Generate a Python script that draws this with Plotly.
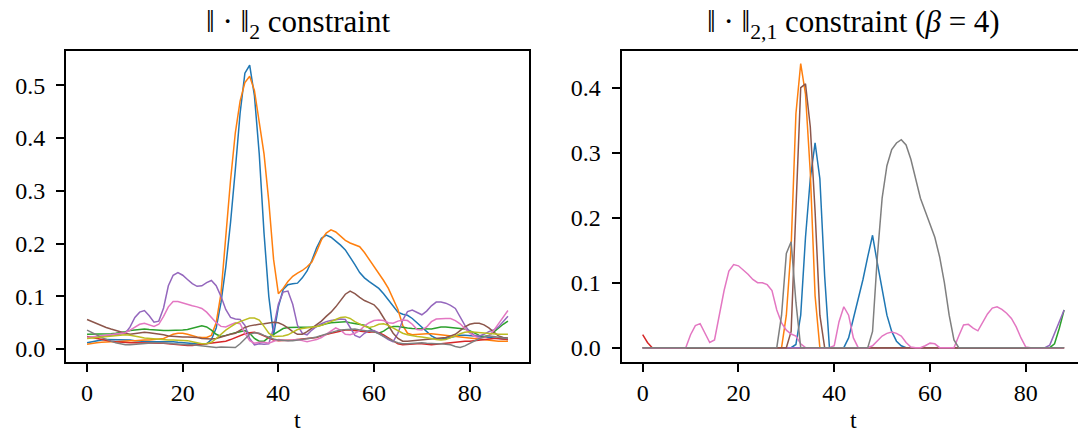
import plotly.graph_objects as go

t = list(range(89))

# Left panel: ||.||_2 constraint
l2_blue = [0.012,0.014,0.016,0.017,0.018,0.018,0.018,0.017,0.017,0.017,
 0.016,0.015,0.015,0.014,0.014,0.014,0.015,0.015,0.014,0.013,
 0.012,0.011,0.010,0.009,0.009,0.010,0.018,0.040,0.088,0.155,
 0.240,0.340,0.447,0.523,0.538,0.480,0.370,0.220,0.100,0.026,
 0.080,0.113,0.122,0.124,0.125,0.135,0.148,0.168,0.192,0.210,
 0.216,0.212,0.205,0.197,0.188,0.175,0.160,0.145,0.135,0.128,
 0.122,0.115,0.105,0.093,0.080,0.070,0.066,0.064,0.058,0.050,
 0.042,0.033,0.025,0.020,0.019,0.020,0.022,0.024,0.026,0.026,
 0.026,0.025,0.024,0.023,0.021,0.020,0.019,0.019,0.018]
l2_orange = [0.009,0.011,0.012,0.013,0.014,0.014,0.014,0.015,0.015,0.016,
 0.016,0.017,0.017,0.017,0.018,0.018,0.020,0.024,0.028,0.030,
 0.030,0.028,0.025,0.023,0.022,0.022,0.026,0.050,0.105,0.215,
 0.320,0.410,0.470,0.505,0.517,0.490,0.430,0.370,0.280,0.170,
 0.105,0.115,0.128,0.138,0.144,0.149,0.156,0.165,0.185,0.207,
 0.220,0.226,0.222,0.214,0.206,0.201,0.198,0.194,0.183,0.170,
 0.155,0.143,0.130,0.115,0.095,0.075,0.045,0.030,0.027,0.028,
 0.029,0.029,0.029,0.028,0.027,0.025,0.024,0.023,0.022,0.021,
 0.020,0.019,0.018,0.017,0.017,0.016,0.015,0.015,0.015]
l2_green = [0.028,0.028,0.028,0.029,0.029,0.029,0.030,0.031,0.033,0.035,
 0.036,0.038,0.038,0.037,0.036,0.035,0.035,0.035,0.035,0.036,
 0.036,0.037,0.039,0.042,0.044,0.042,0.036,0.028,0.024,0.026,
 0.029,0.031,0.033,0.035,0.030,0.020,0.015,0.015,0.022,0.028,
 0.034,0.039,0.041,0.041,0.041,0.041,0.041,0.042,0.043,0.046,
 0.048,0.050,0.051,0.052,0.052,0.050,0.048,0.047,0.045,0.040,
 0.033,0.030,0.034,0.040,0.043,0.043,0.041,0.040,0.039,0.039,
 0.039,0.038,0.038,0.040,0.042,0.042,0.041,0.040,0.039,0.038,
 0.035,0.030,0.026,0.024,0.026,0.032,0.040,0.047,0.053]
l2_red = [0.024,0.022,0.020,0.018,0.016,0.015,0.014,0.013,0.012,0.012,
 0.012,0.012,0.012,0.012,0.012,0.012,0.011,0.010,0.009,0.008,
 0.008,0.007,0.007,0.008,0.009,0.010,0.011,0.012,0.013,0.015,
 0.018,0.022,0.026,0.029,0.031,0.032,0.029,0.025,0.020,0.017,
 0.016,0.016,0.017,0.017,0.018,0.019,0.020,0.021,0.022,0.025,
 0.028,0.030,0.032,0.034,0.036,0.036,0.035,0.033,0.032,0.032,
 0.033,0.031,0.027,0.021,0.015,0.010,0.008,0.009,0.010,0.010,
 0.010,0.009,0.008,0.009,0.010,0.012,0.013,0.014,0.015,0.015,
 0.015,0.016,0.017,0.018,0.020,0.020,0.020,0.019,0.018]
l2_purple = [0.022,0.022,0.023,0.024,0.025,0.026,0.027,0.028,0.030,0.042,
 0.060,0.070,0.073,0.063,0.051,0.053,0.078,0.120,0.140,0.145,
 0.140,0.132,0.124,0.119,0.120,0.126,0.130,0.120,0.100,0.075,
 0.060,0.057,0.056,0.045,0.020,0.008,0.010,0.009,0.010,0.040,
 0.085,0.108,0.110,0.085,0.045,0.030,0.027,0.036,0.043,0.048,
 0.052,0.054,0.056,0.057,0.056,0.040,0.026,0.022,0.030,0.035,
 0.035,0.030,0.024,0.018,0.014,0.030,0.055,0.071,0.074,0.070,
 0.065,0.072,0.082,0.089,0.089,0.087,0.083,0.077,0.062,0.045,
 0.033,0.026,0.025,0.028,0.033,0.036,0.042,0.052,0.062]
l2_brown = [0.056,0.052,0.048,0.044,0.041,0.038,0.035,0.032,0.030,0.028,
 0.029,0.031,0.032,0.031,0.030,0.028,0.027,0.025,0.024,0.024,
 0.023,0.023,0.023,0.022,0.020,0.019,0.019,0.020,0.023,0.026,
 0.028,0.030,0.035,0.041,0.044,0.046,0.047,0.048,0.050,0.051,
 0.050,0.046,0.040,0.033,0.028,0.028,0.033,0.040,0.046,0.053,
 0.062,0.070,0.080,0.092,0.104,0.110,0.105,0.098,0.092,0.088,
 0.084,0.074,0.060,0.045,0.030,0.020,0.015,0.015,0.016,0.017,
 0.018,0.018,0.019,0.020,0.021,0.022,0.025,0.028,0.035,0.042,
 0.047,0.049,0.049,0.046,0.040,0.032,0.025,0.022,0.021]
l2_pink = [0.022,0.023,0.024,0.025,0.026,0.027,0.028,0.029,0.031,0.036,
 0.042,0.047,0.049,0.046,0.043,0.047,0.062,0.080,0.090,0.090,
 0.087,0.085,0.082,0.080,0.077,0.070,0.060,0.050,0.043,0.042,
 0.046,0.050,0.048,0.030,0.016,0.011,0.013,0.013,0.011,0.014,
 0.018,0.017,0.016,0.017,0.018,0.016,0.014,0.016,0.018,0.022,
 0.028,0.035,0.040,0.036,0.028,0.027,0.030,0.035,0.044,0.050,
 0.054,0.055,0.054,0.050,0.049,0.053,0.055,0.054,0.047,0.037,
 0.036,0.042,0.052,0.057,0.058,0.058,0.058,0.054,0.048,0.038,
 0.030,0.024,0.021,0.022,0.025,0.035,0.047,0.060,0.073]
l2_gray = [0.036,0.032,0.027,0.022,0.018,0.015,0.012,0.010,0.008,0.008,
 0.009,0.010,0.011,0.011,0.012,0.012,0.012,0.011,0.010,0.009,
 0.008,0.008,0.008,0.007,0.007,0.006,0.004,0.003,0.004,0.004,
 0.004,0.003,0.010,0.020,0.028,0.031,0.030,0.026,0.022,0.019,
 0.017,0.016,0.016,0.016,0.017,0.018,0.020,0.021,0.023,0.026,
 0.029,0.032,0.034,0.036,0.037,0.038,0.038,0.036,0.035,0.034,
 0.033,0.029,0.024,0.019,0.015,0.012,0.010,0.010,0.011,0.012,
 0.012,0.011,0.010,0.010,0.010,0.009,0.008,0.005,0.003,0.006,
 0.011,0.016,0.020,0.023,0.025,0.024,0.022,0.021,0.020]
l2_olive = [0.020,0.021,0.022,0.023,0.024,0.025,0.026,0.027,0.027,0.026,
 0.025,0.023,0.021,0.020,0.019,0.018,0.018,0.017,0.017,0.017,
 0.017,0.016,0.014,0.012,0.010,0.010,0.013,0.020,0.028,0.036,
 0.042,0.048,0.052,0.056,0.059,0.059,0.055,0.043,0.030,0.024,
 0.024,0.025,0.027,0.032,0.037,0.039,0.040,0.041,0.043,0.045,
 0.048,0.052,0.056,0.060,0.061,0.058,0.052,0.047,0.043,0.041,
 0.043,0.047,0.048,0.045,0.040,0.034,0.030,0.027,0.025,0.024,
 0.023,0.022,0.020,0.018,0.017,0.018,0.021,0.025,0.029,0.032,
 0.033,0.032,0.031,0.030,0.030,0.029,0.028,0.028,0.028]

# Right panel: ||.||_{2,1} constraint (beta = 4)
l21_blue = [0,0,0,0,0,0,0,0,0,0,
 0,0,0,0,0,0,0,0,0,0,
 0,0,0,0,0,0,0,0,0,0,
 0,0,0.005,0.05,0.17,0.26,0.315,0.26,0.11,0,
 0,0,0,0.015,0.045,0.075,0.105,0.14,0.173,0.13,
 0.09,0.05,0.025,0.01,0.003,0,0,0,0,0,
 0,0,0,0,0,0,0,0,0,0,
 0,0,0,0,0,0,0,0,0,0,
 0,0,0,0,0,0,0,0,0]
l21_orange = [0,0,0,0,0,0,0,0,0,0,
 0,0,0,0,0,0,0,0,0,0,
 0,0,0,0,0,0,0,0,0,0,
 0.05,0.155,0.36,0.437,0.39,0.27,0.08,0,0,0,
 0,0,0,0,0,0,0,0,0,0,
 0,0,0,0,0,0,0,0,0,0,
 0,0,0,0,0,0,0,0,0,0,
 0,0,0,0,0,0,0,0,0,0,
 0,0,0,0,0,0,0,0,0]
l21_green = [0,0,0,0,0,0,0,0,0,0,
 0,0,0,0,0,0,0,0,0,0,
 0,0,0,0,0,0,0,0,0,0,
 0,0,0,0,0,0,0,0,0,0,
 0,0,0,0,0,0,0,0,0,0,
 0,0,0,0,0,0,0,0,0,0,
 0,0,0,0,0,0,0,0,0,0,
 0,0,0,0,0,0,0,0,0,0,
 0,0,0,0,0,0,0.006,0.03,0.058]
l21_red = [0.02,0.008,0,0,0,0,0,0,0,0,
 0,0,0,0,0,0,0,0,0,0,
 0,0,0,0,0,0,0,0,0,0,
 0,0,0,0,0,0,0,0,0,0,
 0,0,0,0,0,0,0,0,0,0,
 0,0,0,0,0,0,0,0,0,0,
 0,0,0,0,0,0,0,0,0,0,
 0,0,0,0,0,0,0,0,0,0,
 0,0,0,0,0,0,0,0,0]
l21_purple = [0,0,0,0,0,0,0,0,0,0,
 0,0,0,0,0,0,0,0,0,0,
 0,0,0,0,0,0,0,0,0,0,
 0,0,0,0,0,0,0,0,0,0,
 0,0,0,0,0,0,0,0,0,0,
 0,0,0,0,0,0,0,0,0,0,
 0,0,0,0,0,0,0,0,0,0,
 0,0,0,0,0,0,0,0,0,0,
 0,0,0,0,0,0.004,0.022,0.043,0.058]
l21_brown = [0,0,0,0,0,0,0,0,0,0,
 0,0,0,0,0,0,0,0,0,0,
 0,0,0,0,0,0,0,0,0,0,
 0,0.025,0.2,0.4,0.406,0.34,0.21,0.05,0,0,
 0,0,0,0,0,0,0,0,0,0,
 0,0,0,0,0,0,0,0,0,0,
 0,0,0,0,0,0,0,0,0,0,
 0,0,0,0,0,0,0,0,0,0,
 0,0,0,0,0,0,0,0,0]
l21_pink = [0,0,0,0,0,0,0,0,0,0,
 0.02,0.034,0.037,0.023,0.008,0.012,0.048,0.088,0.118,0.128,
 0.126,0.12,0.113,0.105,0.1,0.1,0.097,0.088,0.058,0.038,
 0.027,0.021,0.018,0.006,0,0,0,0,0,0,
 0.003,0.04,0.063,0.05,0.015,0,0,0,0.003,0.01,
 0.018,0.022,0.024,0.022,0.018,0.008,0.001,0,0,0.003,
 0.007,0.006,0,0,0,0,0.018,0.035,0.036,0.03,
 0.026,0.038,0.052,0.061,0.063,0.059,0.053,0.045,0.032,0.015,
 0.001,0,0,0,0,0,0,0,0]
l21_gray = [0,0,0,0,0,0,0,0,0,0,
 0,0,0,0,0,0,0,0,0,0,
 0,0,0,0,0,0,0,0,0,0.05,
 0.145,0.163,0.07,0,0,0,0,0,0,0,
 0,0,0,0,0,0,0,0,0.025,0.14,
 0.23,0.28,0.305,0.315,0.32,0.312,0.29,0.26,0.23,0.21,
 0.19,0.17,0.14,0.1,0.05,0.012,0,0,0,0,
 0,0,0,0,0,0,0,0,0,0,
 0,0,0,0,0,0,0,0,0]

C = {"blue": "#1f77b4", "orange": "#ff7f0e", "green": "#2ca02c", "red": "#d62728",
     "purple": "#9467bd", "brown": "#8c564b", "pink": "#e377c2", "gray": "#7f7f7f",
     "olive": "#bcbd22"}

left_series = [("blue", l2_blue), ("orange", l2_orange), ("green", l2_green), ("red", l2_red),
               ("purple", l2_purple), ("brown", l2_brown), ("pink", l2_pink), ("gray", l2_gray),
               ("olive", l2_olive)]
right_series = [("blue", l21_blue), ("orange", l21_orange), ("green", l21_green), ("red", l21_red),
                ("purple", l21_purple), ("brown", l21_brown), ("pink", l21_pink), ("gray", l21_gray)]

fig = go.Figure()
for name, ys in left_series:
    fig.add_trace(go.Scatter(x=t, y=ys, mode="lines", line=dict(color=C[name], width=1.5),
                             xaxis="x", yaxis="y", showlegend=False, hoverinfo="skip"))
for name, ys in right_series:
    fig.add_trace(go.Scatter(x=t, y=ys, mode="lines", line=dict(color=C[name], width=1.5),
                             xaxis="x2", yaxis="y2", showlegend=False, hoverinfo="skip"))

W, H = 1078, 435
FONT = "Liberation Serif"
tickfont = dict(family=FONT, size=24, color="black")

def xax(domain, rng, mirror):
    return dict(domain=domain, range=rng, tickmode="array", tickvals=[0, 20, 40, 60, 80],
                ticks="outside", ticklen=8, tickwidth=1.5, tickcolor="black",
                showline=True, linecolor="black", linewidth=2, mirror=mirror,
                showgrid=False, zeroline=False, tickfont=tickfont)

def yax(anchor, rng, vals, mirror):
    return dict(domain=[1 - 362 / H, 1 - 51 / H], range=rng, anchor=anchor,
                tickmode="array", tickvals=vals, ticktext=["%.1f" % v for v in vals],
                ticks="outside", ticklen=8, tickwidth=1.5, tickcolor="black",
                showline=True, linecolor="black", linewidth=2, mirror=mirror,
                showgrid=False, zeroline=False, tickfont=tickfont, ticklabelstandoff=6)

xl = xax([66 / W, 529 / W], [-4.4, 92.4], True)
xl["anchor"] = "y"
xr = xax([621.6 / W, 1.0], [-4.4, 90.9], True)
xr["anchor"] = "y2"

fig.update_layout(
    width=W, height=H, margin=dict(l=0, r=0, t=0, b=0),
    paper_bgcolor="white", plot_bgcolor="white",
    font=dict(family=FONT, color="black"),
    xaxis=xl, xaxis2=xr,
    yaxis=yax("x", [-0.0245, 0.565], [0.0, 0.1, 0.2, 0.3, 0.4, 0.5], True),
    yaxis2=yax("x2", [-0.022, 0.4565], [0.0, 0.1, 0.2, 0.3, 0.4], False),
    annotations=[
        dict(text="‖ · ‖<sub>2</sub> constraint", x=(66 + 529) / 2 / W, y=1 - 24 / H,
             xref="paper", yref="paper", xanchor="center", yanchor="middle", showarrow=False,
             font=dict(family=FONT, size=31, color="black")),
        dict(text="‖ · ‖<sub>2,1</sub> constraint (<i>β</i> = 4)", x=853 / W, y=1 - 24 / H,
             xref="paper", yref="paper", xanchor="center", yanchor="middle", showarrow=False,
             font=dict(family=FONT, size=31, color="black")),
        dict(text="t", x=(66 + 529) / 2 / W, y=1 - 420 / H, xref="paper", yref="paper",
             xanchor="center", yanchor="middle", showarrow=False,
             font=dict(family=FONT, size=24, color="black")),
        dict(text="t", x=853 / W, y=1 - 420 / H, xref="paper", yref="paper",
             xanchor="center", yanchor="middle", showarrow=False,
             font=dict(family=FONT, size=24, color="black")),
    ],
)

fig.write_html("out.html")
